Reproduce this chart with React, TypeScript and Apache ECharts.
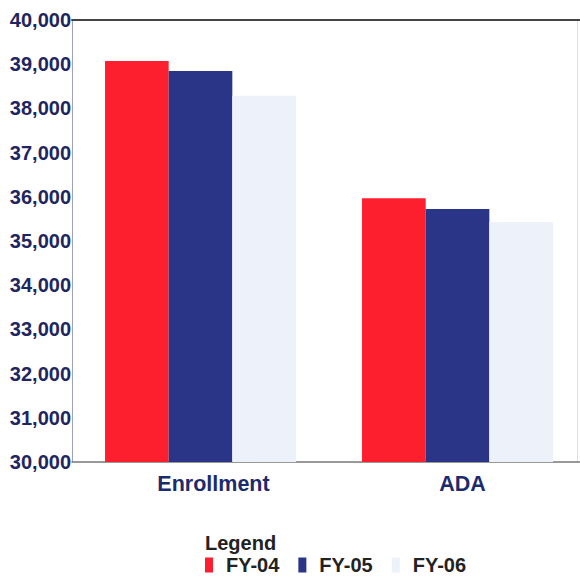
import React, { useEffect, useRef } from "react";
import * as echarts from "echarts";

const categories = ["Enrollment", "ADA"];
const seriesNames = ["FY-04", "FY-05", "FY-06"];
const fy04 = [39070, 35965];
const fy05 = [38845, 35725];
const fy06 = [38285, 35430];
const colors = ["#fd1f2e", "#2b3587", "#edf1fa"];

const FONT = 'Arial, "Liberation Sans", Helvetica, sans-serif';

export default function App() {
  const ref = useRef<HTMLDivElement>(null);
  useEffect(() => {
    if (!ref.current) return;
    const chart = echarts.init(ref.current, undefined, { renderer: "svg" });
    const data = [fy04, fy05, fy06];
    const labelShift = [26, 10];
    chart.setOption({
      animation: false,
      backgroundColor: "#ffffff",
      grid: {
        left: 72,
        right: 4,
        top: 20,
        height: 442,
        show: false,
      },
      xAxis: [
        {
          type: "category",
          data: categories.map((c, i) => ({
            value: c,
            textStyle: { padding: [0, 0, 0, labelShift[i]] },
          })),
          position: "bottom",
          axisLine: { show: true, lineStyle: { color: "#777", width: 1.5 } },
          axisTick: { show: false },
          axisLabel: {
            color: "#1c2a6e",
            fontFamily: FONT,
            fontWeight: "bold",
            fontSize: 21.5,
            margin: 11,
          },
        },
        {
          type: "category",
          data: categories,
          position: "top",
          axisLine: { show: true, lineStyle: { color: "#444", width: 2 } },
          axisTick: { show: false },
          axisLabel: { show: false },
        },
      ],
      yAxis: {
        type: "value",
        min: 30000,
        max: 40000,
        interval: 1000,
        splitLine: { show: false },
        axisLine: { show: true, lineStyle: { color: "#a0a0c0", width: 1 } },
        axisTick: { show: false },
        axisLabel: {
          color: "#1e2560",
          fontFamily: FONT,
          fontWeight: "bold",
          fontSize: 20,
          margin: 1,
          formatter: (v: number) => v.toLocaleString("en-US"),
        },
      },
      legend: {
        left: 205,
        top: 555,
        padding: 0,
        itemWidth: 8,
        itemHeight: 15,
        itemGap: 19,
        icon: "rect",
        data: seriesNames,
        textStyle: {
          color: "#222",
          fontFamily: FONT,
          fontWeight: "bold",
          fontSize: 20,
          lineHeight: 16,
          padding: [0, 0, 0, 8],
        },
      },
      graphic: [
        {
          type: "text",
          left: 205,
          top: 533,
          style: {
            text: "Legend",
            fill: "#222",
            font: `bold 20px ${FONT}`,
            lineHeight: 18,
          },
        },
        {
          type: "line",
          shape: { x1: 577.5, y1: 20, x2: 577.5, y2: 462 },
          style: { stroke: "#dcdce4", lineWidth: 1 },
        },
      ],
      series: seriesNames.map((name, i) => ({
        name,
        type: "bar",
        data: data[i],
        barGap: "0%",
        barCategoryGap: "25.7%",
        itemStyle: { color: colors[i] },
      })),
    });
    return () => chart.dispose();
  }, []);
  return (
    <div
      style={{
        position: "fixed",
        left: 0,
        top: 0,
        width: 580,
        height: 582,
        overflow: "hidden",
      }}
    >
      <div ref={ref} style={{ width: 590, height: 582 }} />
    </div>
  );
}
